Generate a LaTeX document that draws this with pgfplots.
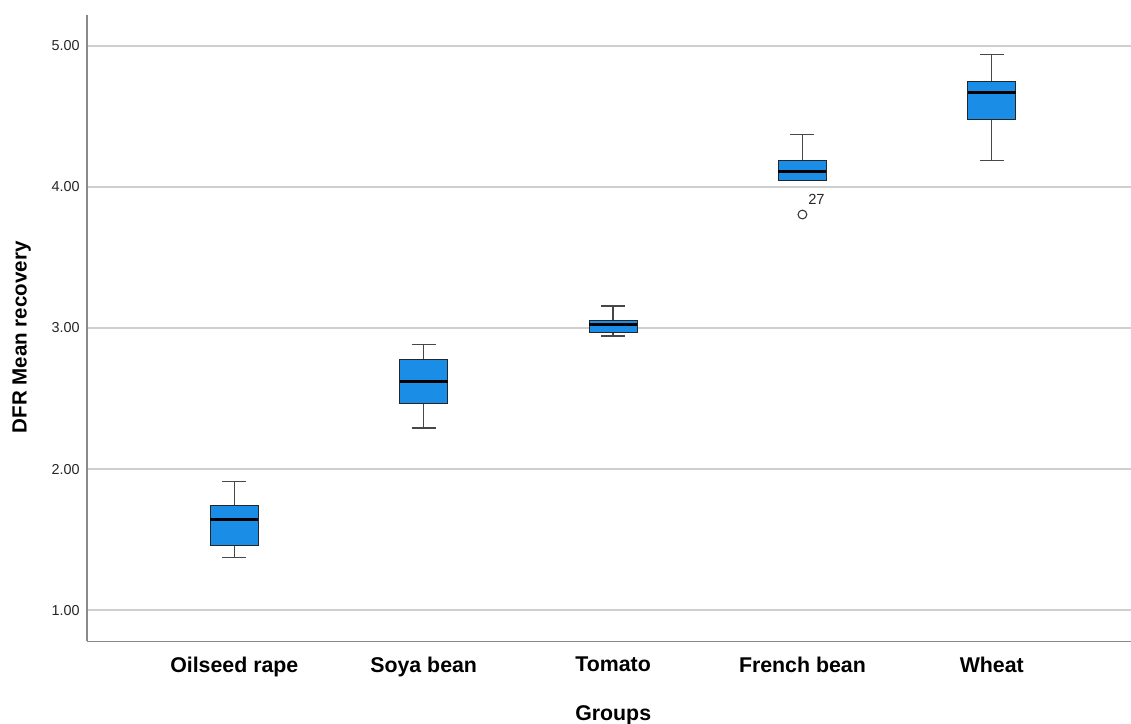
\documentclass[border=0pt]{standalone}
\usepackage{pgfplots}
\pgfplotsset{compat=1.18}
\usepgfplotslibrary{statistics}
\usepackage{fontspec}
\setmainfont{Liberation Sans}
\definecolor{boxblue}{HTML}{1A8DE6}
\definecolor{gridgray}{HTML}{CFCFCF}
\definecolor{axisgray}{HTML}{8A8A8A}
\begin{document}
\begin{tikzpicture}
\begin{axis}[
  at={(0,0)}, anchor=south west,
  scale only axis, width=783pt, height=470pt,
  xmin=-0.7778, xmax=4.735, ymin=0.78, ymax=5.22,
  axis lines=left,
  axis line style={-, draw=axisgray, line width=0.9pt},
  ytick={1,2,3,4,5},
  ymajorgrids, grid style={gridgray, line width=1.2pt},
  major tick length=0pt,
  xtick={0,1,2,3,4},
  xticklabels={Oilseed rape, Soya bean, Tomato, French bean, Wheat},
  /pgf/number format/assume math mode=true,
  yticklabel style={font=\fontsize{10.8}{13}\selectfont, color=black!85,
    /pgf/number format/fixed, /pgf/number format/fixed zerofill,
    /pgf/number format/precision=2, inner sep=0pt, xshift=-5.25pt},
  xticklabel style={font=\bfseries\fontsize{16}{19}\selectfont, anchor=north, inner sep=0pt, yshift=-11.5pt},
  xlabel={Groups}, ylabel={DFR Mean recovery},
  every axis x label/.style={at={(axis description cs:0.504,-0.1017)}, anchor=north, inner sep=0pt, font=\bfseries\fontsize{16}{19}\selectfont},
  every axis y label/.style={at={(axis description cs:-0.0625,0.485)}, rotate=90, anchor=center, inner sep=0pt, font=\bfseries\fontsize{15.4}{18}\selectfont},
  boxplot/draw direction=y,
  boxplot/every box/.style={draw=black!85, fill=boxblue, line width=0.8pt},
  boxplot/every whisker/.style={draw=black!72, line width=1pt},
  boxplot/every median/.style={draw=black, line width=2.2pt},
  clip=false,
]
\addplot[boxplot prepared={draw position=0, median=1.645, upper quartile=1.742, lower quartile=1.458, upper whisker=1.912, lower whisker=1.373, box extend=0.2535, whisker extend=0.127}] coordinates {};
\addplot[boxplot prepared={draw position=1, median=2.621, upper quartile=2.775, lower quartile=2.463, upper whisker=2.882, lower whisker=2.291, box extend=0.2535, whisker extend=0.127}] coordinates {};
\addplot[boxplot prepared={draw position=2, median=3.024, upper quartile=3.055, lower quartile=2.967, upper whisker=3.156, lower whisker=2.943, box extend=0.2535, whisker extend=0.127}] coordinates {};
\addplot[boxplot prepared={draw position=3, median=4.111, upper quartile=4.189, lower quartile=4.048, upper whisker=4.369, lower whisker=4.048, box extend=0.2535, whisker extend=0.127}] coordinates {};
\addplot[boxplot prepared={draw position=4, median=4.669, upper quartile=4.745, lower quartile=4.480, upper whisker=4.936, lower whisker=4.187, box extend=0.2535, whisker extend=0.127}] coordinates {};
\addplot[only marks, mark=o, mark size=3.3pt, mark options={draw=black!80, line width=0.8pt}] coordinates {(3,3.804)};
\node[anchor=south west, inner sep=0pt, xshift=4.2pt, yshift=7.5pt, font=\fontsize{11}{13}\selectfont, color=black!85] at (axis cs:3,3.804) {27};
\end{axis}
\pgfresetboundingbox
\useasboundingbox (-65.25pt,-62pt) rectangle (783pt,481pt);
\end{tikzpicture}
\end{document}
